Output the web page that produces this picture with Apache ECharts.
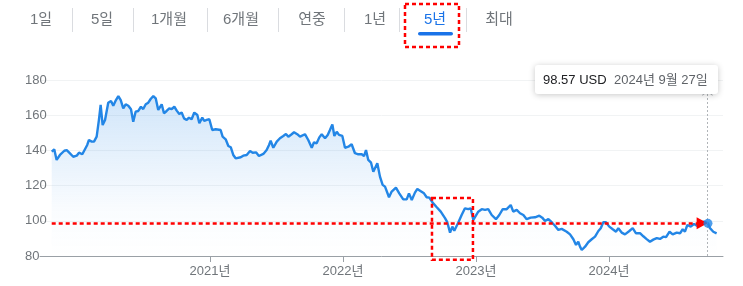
<!DOCTYPE html>
<html>
<head>
<meta charset="utf-8">
<script src="https://cdn.jsdelivr.net/npm/echarts@6/dist/echarts.min.js"></script>
<style>
html,body{margin:0;padding:0;background:#fff;}
#c{width:743px;height:286px;}
</style>
</head>
<body>
<div id="c"></div>
<script>
// ---- data (decimal years, price in USD) ----
var dates = [
2019.810,2019.829,2019.847,2019.872,2019.905,2019.923,2019.940,2019.955,2019.972,2019.998,
2020.015,2020.040,2020.053,2020.077,2020.090,2020.111,2020.128,2020.148,2020.165,2020.178,
2020.193,2020.211,2020.235,2020.256,2020.273,2020.293,2020.311,2020.329,2020.348,2020.366,
2020.386,2020.406,2020.423,2020.441,2020.461,2020.481,2020.498,2020.517,2020.536,2020.554,
2020.574,2020.592,2020.611,2020.637,2020.654,2020.674,2020.694,2020.712,2020.732,2020.750,
2020.769,2020.787,2020.805,2020.825,2020.842,2020.862,2020.882,2020.905,2020.920,2020.942,
2020.957,2020.975,2020.995,2021.017,2021.043,2021.080,2021.095,2021.118,2021.138,2021.156,
2021.175,2021.193,2021.208,2021.231,2021.250,2021.276,2021.301,2021.321,2021.346,2021.368,
2021.401,2021.426,2021.444,2021.456,2021.476,2021.502,2021.526,2021.551,2021.571,2021.589,
2021.614,2021.632,2021.656,2021.677,2021.714,2021.739,2021.765,2021.782,2021.802,2021.822,
2021.840,2021.865,2021.885,2021.902,2021.920,2021.935,2021.953,2021.970,2021.995,2022.015,
2022.040,2022.065,2022.090,2022.115,2022.141,2022.158,2022.173,2022.190,2022.211,2022.228,
2022.258,2022.278,2022.298,2022.316,2022.329,2022.346,2022.366,2022.398,2022.423,2022.453,
2022.479,2022.496,2022.517,2022.541,2022.559,2022.579,2022.609,2022.629,2022.649,2022.674,
2022.705,2022.735,2022.767,2022.784,2022.805,2022.822,2022.837,2022.867,2022.892,2022.917,
2022.942,2022.960,2022.980,2022.992,2023.017,2023.043,2023.068,2023.092,2023.118,2023.150,
2023.175,2023.201,2023.231,2023.261,2023.280,2023.306,2023.331,2023.356,2023.381,2023.411,
2023.444,2023.476,2023.498,2023.519,2023.544,2023.569,2023.594,2023.619,2023.644,2023.682,
2023.707,2023.732,2023.752,2023.769,2023.782,2023.795,2023.820,2023.844,2023.870,2023.895,
2023.920,2023.938,2023.957,2023.977,2024.002,2024.028,2024.053,2024.070,2024.095,2024.120,
2024.153,2024.178,2024.203,2024.233,2024.258,2024.283,2024.308,2024.333,2024.359,2024.383,
2024.408,2024.429,2024.455,2024.479,2024.509,2024.534,2024.554,2024.571,2024.589,2024.614,
2024.639,2024.664,2024.689,2024.714,2024.744,2024.759,2024.784,2024.809
];
var prices = [
139.3,140.6,134.6,137.4,139.8,140.2,138.9,138.7,136.4,137.0,
138.7,137.8,137.4,143.1,145.9,145.0,145.0,147.8,157.3,165.8,
154.4,157.3,167.1,168.1,165.4,168.6,170.9,168.6,163.9,166.2,
165.4,163.4,156.3,162.0,162.4,164.8,163.5,166.2,167.1,169.2,
170.9,169.6,163.0,166.2,161.1,162.4,163.9,163.4,164.8,162.6,
160.7,161.5,158.2,157.3,158.6,157.7,161.5,160.1,155.4,158.6,
156.7,157.3,157.7,151.6,152.0,151.6,147.8,146.3,142.5,141.8,
137.4,135.5,134.6,136.1,137.0,137.4,139.7,138.7,138.9,136.8,
138.0,140.2,143.1,145.5,141.5,145.0,146.9,148.2,149.3,147.8,
149.2,150.3,149.2,147.8,149.2,145.9,141.5,144.6,144.0,147.4,
149.2,146.9,148.8,151.6,154.8,148.2,150.6,148.8,148.2,141.5,
142.1,143.5,138.4,137.8,137.8,136.8,140.2,134.6,133.0,127.9,
132.7,125.1,120.4,119.4,119.1,113.4,116.6,118.8,115.6,112.2,
112.2,115.6,111.8,116.0,118.1,117.1,115.6,113.4,113.2,110.3,
107.7,105.2,101.5,99.2,93.3,96.7,94.4,99.0,103.3,107.1,
106.6,107.1,100.5,99.5,105.2,106.6,106.2,106.6,103.3,100.9,
103.3,106.6,106.6,109.0,105.2,106.2,104.3,103.3,100.9,101.8,
102.0,102.9,101.8,99.9,101.0,99.2,97.2,94.8,95.4,93.8,
92.3,89.5,86.3,88.1,85.3,83.4,85.3,87.8,89.5,91.0,
94.2,95.8,99.2,99.2,96.7,95.2,93.8,95.8,93.3,92.3,
94.2,95.8,92.9,93.0,91.2,89.6,88.1,89.3,90.2,89.7,
91.0,90.7,93.8,92.3,93.3,92.9,95.2,93.8,97.6,96.7,
98.2,97.1,99.0,99.5,98.57,95.8,93.8,92.9
];
var yearTicks = [2021, 2022, 2023, 2024];
var yearLabels = ['2021년', '2022년', '2023년', '2024년'];
var tabs = ['1일', '5일', '1개월', '6개월', '연중', '1년', '5년', '최대'];
var activeTab = '5년';
var hlDate = 2024.744;
var hlPrice = 98.57;
var hlDateText = '2024년 9월 27일';
var refStart = 2019.81, refEnd = 2024.70;
var zoomBox = { from: 2022.669, to: 2022.977, high: 113.0, low: 77.8 };

var FONT = "'Liberation Sans', 'Noto Sans CJK KR', sans-serif";
var LINE = '#2386e6';

var chart = echarts.init(document.getElementById('c'), null, {renderer: 'canvas'});

// header tabs
var tabCenters = [41, 102, 169, 241, 312, 375, 435, 499];
var seps = [72, 133, 207, 278, 344, 399, 466];
var graphics = [];
tabs.forEach(function (t, i) {
  graphics.push({
    type: 'text', x: tabCenters[i], y: 20, z: 10,
    style: { text: t, font: '15px ' + FONT, fill: t === activeTab ? '#1a73e8' : '#70757a',
      align: 'center', verticalAlign: 'middle' }
  });
});
seps.forEach(function (x) {
  graphics.push({ type: 'line', z: 10, shape: { x1: x + 0.5, y1: 8, x2: x + 0.5, y2: 32 },
    style: { stroke: '#dadce0', lineWidth: 1 } });
});
graphics.push({ type: 'rect', z: 10, shape: { x: 418, y: 32, width: 35, height: 3.5, r: 2 },
  style: { fill: '#1a73e8' } });
graphics.push({ type: 'rect', z: 11, shape: { x: 405, y: 4, width: 54, height: 43 },
  style: { fill: null, stroke: '#ff0000', lineWidth: 2.5, lineDash: [4, 3] } });
// tooltip box
graphics.push({ type: 'rect', z: 20, shape: { x: 535, y: 65, width: 183, height: 29, r: 3 },
  style: { fill: '#fff', shadowBlur: 6, shadowColor: 'rgba(0,0,0,0.22)', shadowOffsetY: 1 } });
graphics.push({ type: 'text', z: 21, x: 543, y: 80,
  style: { text: hlPrice.toFixed(2) + ' USD', font: '13px ' + FONT, fill: '#202124', verticalAlign: 'middle' } });
graphics.push({ type: 'text', z: 21, x: 614, y: 80,
  style: { text: hlDateText, font: '13px ' + FONT, fill: '#5f6368', verticalAlign: 'middle' } });

var lineData = dates.map(function (d, i) { return [d, prices[i]]; });

chart.setOption({
  animation: false,
  grid: { left: 40, right: 20, top: 80, bottom: 30, containLabel: false },
  xAxis: {
    type: 'value', min: 2019.722, max: 2024.857,
    axisLine: { show: true, lineStyle: { color: '#9aa0a6', width: 1 } },
    axisTick: { show: true, length: 6, lineStyle: { color: '#9aa0a6' }, customValues: yearTicks },
    axisLabel: { fontSize: 13, color: '#70757a', fontFamily: FONT, margin: 9,
      customValues: yearTicks,
      formatter: function (v) { var i = yearTicks.indexOf(Math.round(v)); return i >= 0 ? yearLabels[i] : ''; } },
    splitLine: { show: false }
  },
  yAxis: {
    type: 'value', min: 80, max: 180, interval: 20,
    axisLine: { show: false }, axisTick: { show: false },
    axisLabel: { fontSize: 13, color: '#70757a', fontFamily: FONT, align: 'left', margin: 15 },
    splitLine: { show: true, lineStyle: { color: '#f1f3f4', width: 1 } }
  },
  series: [
    {
      type: 'line', data: lineData, showSymbol: false, symbol: 'none',
      lineStyle: { color: LINE, width: 2.4 },
      areaStyle: {
        color: new echarts.graphic.LinearGradient(0, 0, 0, 1, [
          { offset: 0, color: 'rgba(35,134,230,0.30)' },
          { offset: 0.7, color: 'rgba(35,134,230,0.04)' },
          { offset: 1, color: 'rgba(35,134,230,0)' }
        ])
      },
      markLine: {
        silent: true, animation: false,
        data: [
          [ { coord: [refStart, hlPrice], symbol: 'none' },
            { coord: [refEnd, hlPrice], symbol: 'triangle', symbolSize: [12, 11] } ],
          { xAxis: hlDate, symbol: 'none',
            lineStyle: { color: '#b0b4b8', width: 1, type: [2, 2] } }
        ],
        lineStyle: { color: '#ff0000', width: 2.5, type: [4, 3] },
        label: { show: false }
      },
      z: 3
    },
    {
      type: 'scatter', data: [[hlDate, hlPrice]], symbolSize: 9,
      itemStyle: { color: LINE }, z: 5
    }
  ],
  graphic: graphics
});

// dashed annotation box around the late-2022 dip
var p1 = chart.convertToPixel({ gridIndex: 0 }, [zoomBox.from, zoomBox.high]);
var p2 = chart.convertToPixel({ gridIndex: 0 }, [zoomBox.to, zoomBox.low]);
graphics.push({ type: 'rect', z: 12,
  shape: { x: p1[0], y: p1[1], width: p2[0] - p1[0], height: p2[1] - p1[1] },
  style: { fill: null, stroke: '#ff0000', lineWidth: 2.5, lineDash: [4, 3] } });
chart.setOption({ graphic: graphics });
</script>
</body>
</html>
